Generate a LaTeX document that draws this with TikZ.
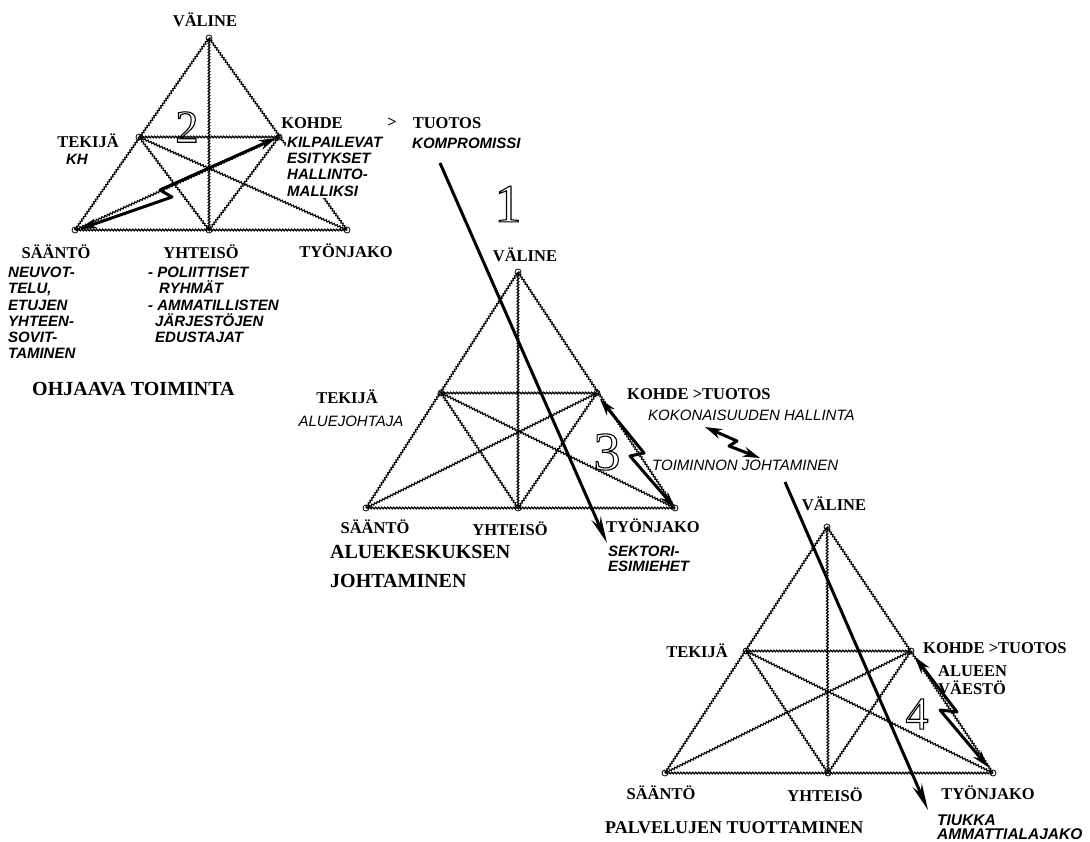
\documentclass[tikz,border=0pt]{standalone}
\usepackage{fontspec}
\setmainfont{Liberation Serif}
\setsansfont{Liberation Sans}
\usetikzlibrary{decorations.pathmorphing,arrows.meta}
\newcommand{\hollow}[1]{\special{pdf:literal direct 1 Tr 1.1 w}#1\special{pdf:literal direct 0 Tr}}
\begin{document}
\begin{tikzpicture}[x=1pt,y=-1pt,
  edge/.style={line width=1.1pt, decorate, decoration={zigzag, amplitude=0.9pt, segment length=3pt}},
  vmark/.style={draw, line width=0.8pt, circle, inner sep=0pt, minimum size=6pt},
  lab/.style={font=\fontsize{16.5}{18}\selectfont\bfseries, inner sep=0pt, align=left},
  itl/.style={font=\fontsize{15}{16.2}\selectfont\sffamily\bfseries\itshape, inner sep=0pt, align=left},
  itm/.style={font=\fontsize{15}{16}\selectfont\sffamily\itshape, inner sep=0pt, align=left},
  ttl/.style={font=\fontsize{20}{29}\selectfont\bfseries, inner sep=0pt, align=left},
  num/.style={inner sep=0pt},
  bigarrow/.style={line width=3pt, -{Stealth[length=27pt,width=10pt]}},
  bolt/.style={line width=3pt, line join=round, {Stealth[length=17pt,width=10pt]}-{Stealth[length=17pt,width=10pt]}},
]
\useasboundingbox (0,0) rectangle (1090,842);

% ---- vertices of the three triangles ----
\coordinate (a-V) at (209,38);  \coordinate (a-S) at (75,230);  \coordinate (a-T) at (347,230);
\coordinate (a-Y) at (209,230); \coordinate (a-L) at (139,137); \coordinate (a-R) at (279,137);
\coordinate (b-V) at (518,272); \coordinate (b-S) at (366,508); \coordinate (b-T) at (675,508);
\coordinate (b-Y) at (518,508); \coordinate (b-L) at (441,393); \coordinate (b-R) at (597,393);
\coordinate (c-V) at (827,527); \coordinate (c-S) at (665,773); \coordinate (c-T) at (993,773);
\coordinate (c-Y) at (828,773); \coordinate (c-L) at (746,651); \coordinate (c-R) at (911,651);

\foreach \p in {a,b,c}{
  \draw[edge] (\p-V) -- (\p-S);
  \draw[edge] (\p-V) -- (\p-T);
  \draw[edge] (\p-S) -- (\p-T);
  \draw[edge] (\p-L) -- (\p-R);
  \draw[edge] (\p-V) -- (\p-Y);
  \draw[edge] (\p-L) -- (\p-Y);
  \draw[edge] (\p-R) -- (\p-Y);
  \draw[edge] (\p-L) -- (\p-T);
  \draw[edge] (\p-R) -- (\p-S);
  \foreach \v in {V,S,T,Y,L,R}{ \node[vmark] at (\p-\v) {}; }
}

% ---- triangle 1 : OHJAAVA TOIMINTA ----
\node[lab] (a-valine) at (205,20) {VÄLINE};
\node[lab] (a-tekija) at (88,141) {TEKIJÄ};
\node[itl] (a-kh) at (77,159) {KH};
\node[lab] (a-kohde) at (312,123) {KOHDE};
\node[lab] (a-gt) at (392,123) {>};
\node[lab] (a-tuotos) at (447,123) {TUOTOS};
\node[itl, fill=white, inner xsep=1pt, inner ysep=2pt, anchor=north west] (a-kilp) at (286,135)
  {KILPAILEVAT\\ESITYKSET\\HALLINTO-\\MALLIKSI};
\node[itl, anchor=west] (a-komp) at (412,143) {KOMPROMISSI};
\node[lab] (a-saanto) at (56,252) {SÄÄNTÖ};
\node[lab] (a-yhteiso) at (201,252) {YHTEISÖ};
\node[lab] (a-tyonjako) at (346,251) {TYÖNJAKO};
\node[itl, anchor=north west] (a-neuv) at (8,267)
  {NEUVOT-\\TELU,\\ETUJEN\\YHTEEN-\\SOVIT-\\TAMINEN};
\node[itl, anchor=north west] (a-pol) at (148,267)
  {- POLIITTISET\\\hspace*{11pt}RYHMÄT\\- AMMATILLISTEN\\\hspace*{7pt}JÄRJESTÖJEN\\\hspace*{7pt}EDUSTAJAT};
\node[ttl, anchor=west] (a-title) at (32,389) {OHJAAVA TOIMINTA};
\node[num, font=\fontsize{46}{46}\selectfont] (n2) at (187,127) {\hollow{2}};

\coordinate (a-b1) at (80,229);
\coordinate (a-b2) at (172,197);
\coordinate (a-b3) at (160,190);
\coordinate (a-b4) at (276,138);
\draw[bolt] (a-b1) -- (a-b2) -- (a-b3) -- (a-b4);

% ---- triangle 2 : ALUEKESKUKSEN JOHTAMINEN ----
\node[lab] (b-valine) at (525,255) {VÄLINE};
\node[lab] (b-tekija) at (347,397) {TEKIJÄ};
\node[itm] (b-alue) at (351,421) {ALUEJOHTAJA};
\node[lab, anchor=west] (b-kohde) at (627,394) {KOHDE >TUOTOS};
\node[itm, anchor=west] (b-koko) at (648,415) {KOKONAISUUDEN HALLINTA};
\node[itm, anchor=west] (b-toim) at (652,465) {TOIMINNON JOHTAMINEN};
\node[lab] (b-saanto) at (375,527) {SÄÄNTÖ};
\node[lab] (b-yhteiso) at (510,529) {YHTEISÖ};
\node[lab, anchor=west] (b-tyonjako) at (606,526) {TYÖNJAKO};
\node[itl, anchor=north west, font=\fontsize{15}{15}\selectfont\sffamily\bfseries\itshape] (b-sekt) at (608,546) {SEKTORI-\\ESIMIEHET};
\node[ttl, anchor=north west] (b-title) at (330,545) {ALUEKESKUKSEN\\JOHTAMINEN};
\node[num, font=\fontsize{54}{54}\selectfont] (n3) at (607,452) {\hollow{3}};
\node[num, font=\fontsize{54}{54}\selectfont] (n1) at (508,204) {\hollow{1}};

\coordinate (b-b1) at (600,399);
\coordinate (b-b2) at (644,453);
\coordinate (b-b3) at (630,456);
\coordinate (b-b4) at (675,508);
\draw[bolt] (b-b1) -- (b-b2) -- (b-b3) -- (b-b4);

\coordinate (m-b1) at (705,427);
\coordinate (m-b2) at (737,441);
\coordinate (m-b3) at (729,446);
\coordinate (m-b4) at (760,458);
\draw[bolt] (m-b1) -- (m-b2) -- (m-b3) -- (m-b4);

\coordinate (arr1s) at (440,163);
\coordinate (arr1e) at (607,543);
\draw[bigarrow] (arr1s) -- (arr1e);

% ---- triangle 3 : PALVELUJEN TUOTTAMINEN ----
\node[lab] (c-valine) at (834,504) {VÄLINE};
\node[lab] (c-tekija) at (697,651) {TEKIJÄ};
\node[lab, anchor=west] (c-kohde) at (923,648) {KOHDE >TUOTOS};
\node[lab, anchor=north west] (c-alue) at (938,665) {ALUEEN\\VÄESTÖ};
\node[num, font=\fontsize{46}{46}\selectfont] (n4) at (917,714) {\hollow{4}};
\node[lab] (c-saanto) at (661,793) {SÄÄNTÖ};
\node[lab] (c-yhteiso) at (825,795) {YHTEISÖ};
\node[lab] (c-tyonjako) at (988,793) {TYÖNJAKO};
\node[itl, anchor=north west, font=\fontsize{15.5}{13.5}\selectfont\sffamily\bfseries\itshape] (c-tiukka) at (937,815) {TIUKKA\\AMMATTIALAJAKO};
\node[ttl, anchor=west, font=\fontsize{18}{20}\selectfont\bfseries] (c-title) at (605,828) {PALVELUJEN TUOTTAMINEN};

\coordinate (c-b1) at (915,657);
\coordinate (c-b2) at (957,712);
\coordinate (c-b3) at (940,710);
\coordinate (c-b4) at (988,767);
\draw[bolt] (c-b1) -- (c-b2) -- (c-b3) -- (c-b4);

\coordinate (arr4s) at (785,482);
\coordinate (arr4e) at (928,810);
\draw[bigarrow] (arr4s) -- (arr4e);
\end{tikzpicture}
\end{document}
